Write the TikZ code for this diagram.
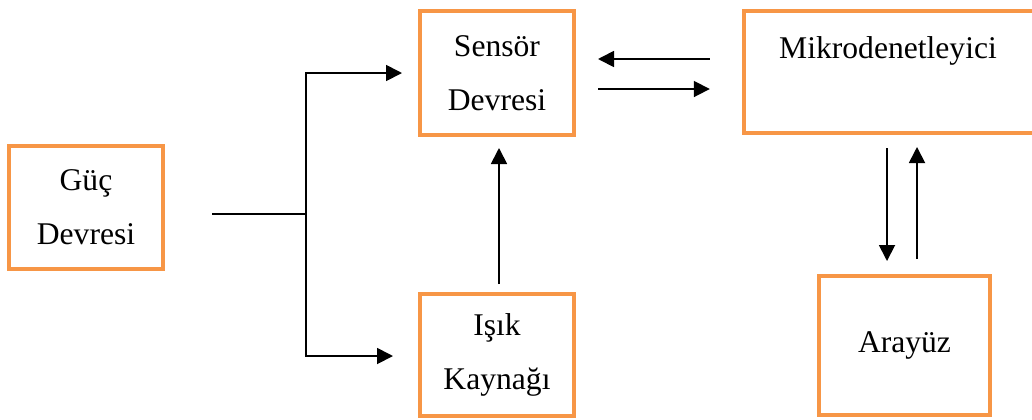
\documentclass[tikz,border=0pt]{standalone}
\usepackage{fontspec}
\setmainfont{Liberation Serif}
\usepackage{xcolor}
\usetikzlibrary{arrows.meta}
\definecolor{kutu}{HTML}{F79646}

\begin{document}
\begin{tikzpicture}[x=0.5pt,y=-0.5pt,
        font=\fontsize{15.8pt}{27pt}\selectfont,
        blok/.style={draw=kutu, line width=2.2pt, align=center, inner sep=0pt},
        ok/.style={-{Triangle[length=8pt,width=8pt]}, line width=0.9pt}]
        \useasboundingbox (0,0) rectangle (1032,419); % page size

        \node[blok, minimum width=76.8pt, minimum height=61.3pt] (guc) at (86,207.5) {Güç\\Devresi};
        \node[blok, minimum width=76.8pt, minimum height=61.8pt] (sensor) at (497,73) {Sensör\\Devresi};
        \node[blok, minimum width=76.8pt, minimum height=60.8pt] (isik) at (497,355) {Işık\\Kaynağı};
        % right side of this box runs off the page
        \node[blok, minimum width=150pt, minimum height=60.8pt,
              label={[anchor=base,xshift=-3pt,yshift=-24.5pt]north:Mikrodenetleyici}] (mikro) at (894,72) {};
        \node[blok, minimum width=85.3pt, minimum height=69.3pt] (arayuz) at (904.5,345.5) {Arayüz};

        \coordinate (cikis) at (212,214);
        \coordinate (ayrim) at (306,214);

        \draw[line width=0.9pt] (cikis) -- (ayrim);
        \draw[ok] (ayrim) |- ([xshift=-8pt]sensor.west);
        \draw[ok] (ayrim) |- ([xshift=-12.5pt,yshift=-0.5pt]isik.west);

        \draw[ok, shorten <=4pt, shorten >=5.5pt] ([xshift=1pt]isik.north) -- ([xshift=1pt]sensor.south);

        \draw[ok, shorten <=16pt, shorten >=11pt] ([yshift=6.5pt]mikro.west) -- ([yshift=6.5pt]mikro.west -| sensor.east);
        \draw[ok, shorten <=11pt, shorten >=16pt] ([yshift=-8pt]sensor.east) -- ([yshift=-8pt]sensor.east -| mikro.west);

        \draw[ok, shorten <=6.5pt, shorten >=6.5pt] ([xshift=-3.5pt]mikro.south) -- ([xshift=-3.5pt]mikro.south |- arayuz.north);
        \draw[ok, shorten <=7.5pt, shorten >=6pt] ([xshift=11.5pt]mikro.south |- arayuz.north) -- ([xshift=11.5pt]mikro.south);
    \end{tikzpicture}
\end{document}
